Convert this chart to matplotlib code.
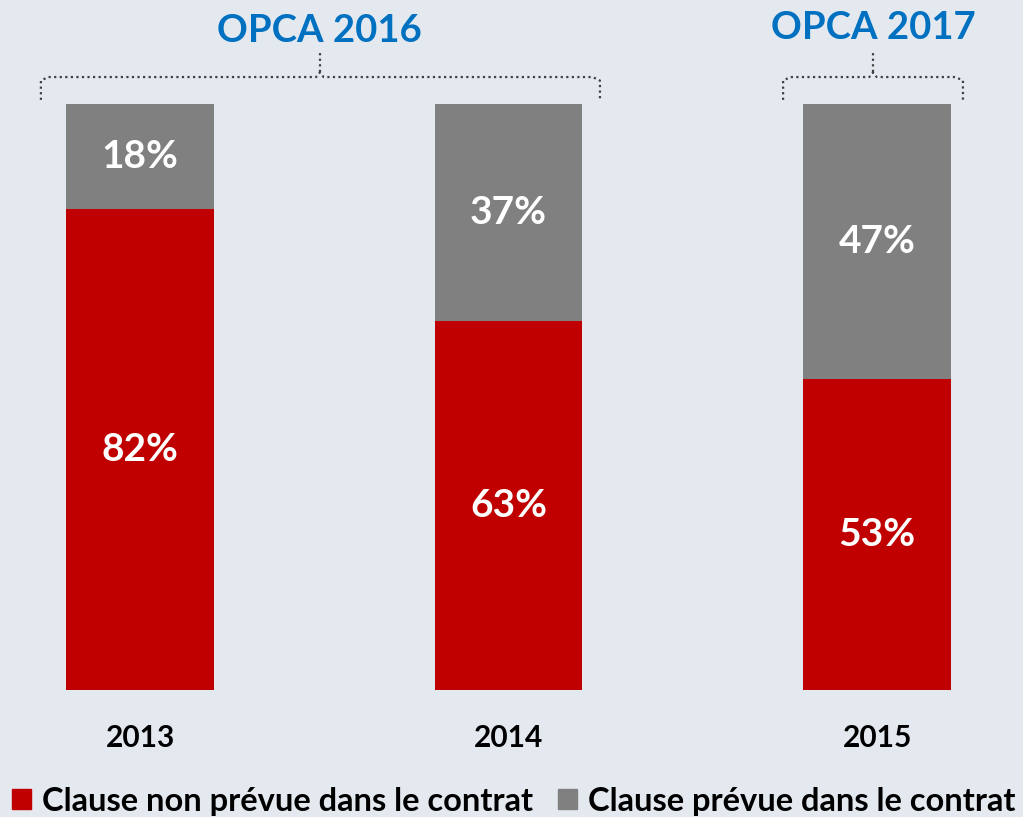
import matplotlib
matplotlib.use('Agg')
import matplotlib.pyplot as plt
from matplotlib.patches import Patch

# données
annees = ['2013', '2014', '2015']
non_prevue = [82, 63, 53]
prevue = [18, 37, 47]
series = ['Clause non prévue dans le contrat', 'Clause prévue dans le contrat']
groupes = ['OPCA 2016', 'OPCA 2017']

rouge = '#C00000'
gris = '#808080'
bleu = '#0070C0'
fond = '#E4E9F0'

plt.rcParams['font.family'] = ['Lato', 'DejaVu Sans']

fig = plt.figure(figsize=(10.23, 8.17), dpi=100, facecolor=fond)
ax = fig.add_axes([0, 127 / 817, 1, 586 / 817])
ax.set_facecolor(fond)

x = list(range(len(annees)))
ax.bar(x, non_prevue, width=0.4, color=rouge)
ax.bar(x, prevue, width=0.4, bottom=non_prevue, color=gris)

for i in x:
    ax.text(i, non_prevue[i] / 2, f'{non_prevue[i]}%', ha='center', va='center',
            color='white', fontsize=28, fontweight='bold')
    ax.text(i, non_prevue[i] + prevue[i] / 2, f'{prevue[i]}%', ha='center', va='center',
            color='white', fontsize=28, fontweight='bold')
    ax.text(i, -8.2, annees[i], ha='center', va='center', color='black',
            fontsize=21.5, fontweight='bold')

ax.set_xlim(-0.38, 2.396)
ax.set_ylim(0, 100)
ax.axis('off')


# accolades en pointillés
def accolade(x0, x1, xm, titre, ytitre):
    kw = dict(color='#404040', lw=1.6, ls=(0, (1, 1.5)), clip_on=False)
    ax.plot([x0, x0, x0 + 0.02, xm - 0.01, xm, xm + 0.01, x1 - 0.02, x1, x1],
            [100.7, 104.0, 104.6, 104.6, 105.4, 104.6, 104.6, 104.0, 100.7], **kw)
    ax.plot([xm, xm], [105.4, 108.7], **kw)
    ax.text(xm, ytitre, titre, ha='center', va='center', color=bleu,
            fontsize=27.5, fontweight='bold', clip_on=False)


accolade(-0.269, 1.248, 0.488, groupes[0], 112.4)
accolade(1.745, 2.233, 1.989, groupes[1], 112.9)

poignees = [Patch(color=rouge), Patch(color=gris)]
fig.legend(poignees, series, loc='center left', bbox_to_anchor=(12 / 1023, 16 / 817),
           ncol=2, frameon=False, handlelength=0.58, handleheight=0.58,
           handletextpad=0.34, columnspacing=0.77, borderpad=0, borderaxespad=0,
           prop={'family': ['Lato', 'DejaVu Sans'], 'weight': 'bold', 'size': 23.5})

fig.savefig('out.png', dpi=100, facecolor=fond)
